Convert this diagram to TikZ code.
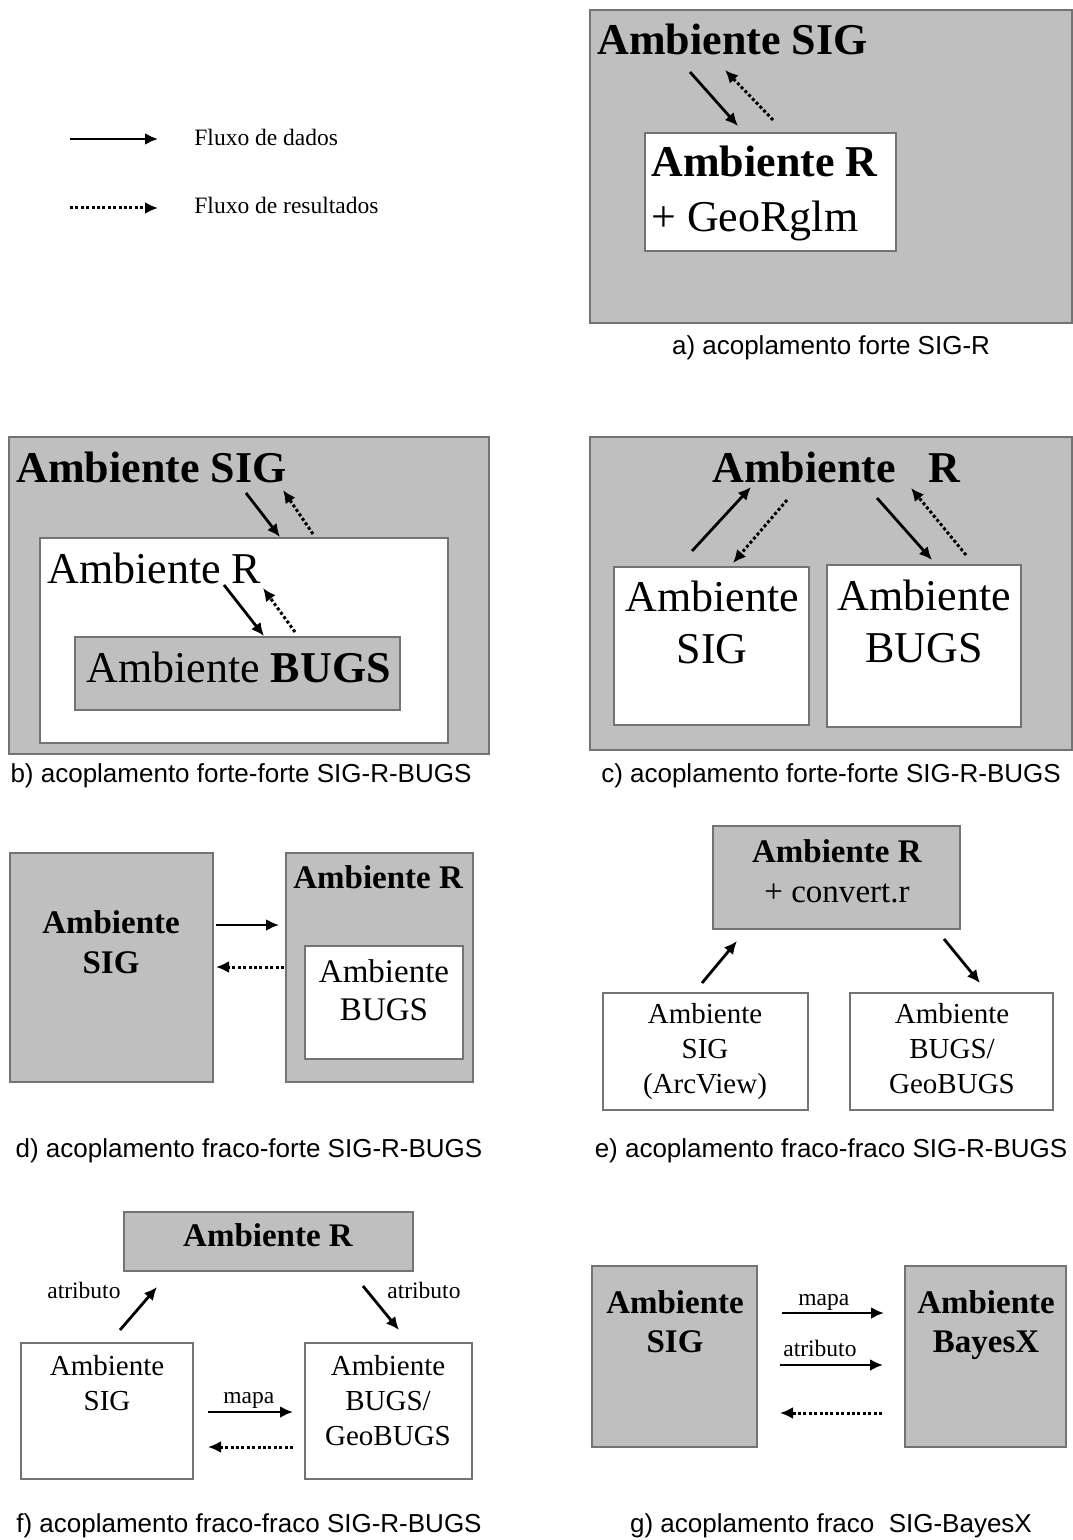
\documentclass[tikz,border=0pt]{standalone}
\usepackage{fontspec}
\setmainfont{Liberation Serif}
\setsansfont{Liberation Sans}
\usetikzlibrary{arrows.meta, fit}
\tikzset{>={Latex[width=6pt,length=6.5pt]}}

\begin{document}
\begin{tikzpicture}[
    x = 0.5pt, y = -0.5pt,
    graybox/.style = {draw=black!55, fill=black!25, line width=0.7pt,
        inner sep=0pt},
    whitebox/.style = {graybox, fill=white},
    dados/.style = {->, line width=1.4pt},
    result/.style = {dados, line width=1.5pt, dash pattern=on 1.5pt off 1.2pt},
    txtbig/.style = {inner sep=0pt, font=\fontsize{22}{26}\selectfont},
    txtbigb/.style = {inner sep=0pt, font=\fontsize{22}{26}\selectfont\bfseries},
    txtmid/.style = {inner sep=0pt, font=\fontsize{16.5}{20}\selectfont},
    txtmidb/.style = {inner sep=0pt, font=\fontsize{16.5}{20}\selectfont\bfseries},
    txtsml/.style = {inner sep=0pt, font=\fontsize{14.5}{17.5}\selectfont},
    rotulo/.style = {inner sep=0pt, anchor=base west,
        font=\fontsize{11.75}{14}\selectfont},
    legenda/.style = {inner sep=0pt, anchor=base,
        font=\sffamily\fontsize{13}{15}\selectfont}
  ]
  \fill[white] (0,0) rectangle (1072,1540);
  \useasboundingbox (0,0) rectangle (1072,1540);

  % legenda
  \coordinate (L1a) at (70,139);  \coordinate (L1b) at (158,139);
  \coordinate (L2a) at (70,208);  \coordinate (L2b) at (158,208);
  \draw[dados] (L1a) -- (L1b);
  \draw[result] (L2a) -- (L2b);
  \node[rotulo] (L1t) at (194,146) {Fluxo de dados};
  \node[rotulo] (L2t) at (194,214) {Fluxo de resultados};

  % a) acoplamento forte SIG-R
  \node[graybox, fit={(590,10) (1072,323)}] (aSIG) {};
  \node[txtbigb, anchor=base west] (aSIGt) at (597,55) {Ambiente SIG};
  \node[whitebox, fit={(645,133) (896,251)}] (aR) {};
  \node[txtbigb, anchor=base west] (aRt) at (651,177) {Ambiente R};
  \node[txtbig, anchor=base west] (aRg) at (651,232) {+ GeoRglm};
  \coordinate (aD1) at (690,72);  \coordinate (aD2) at (738,126);
  \coordinate (aF1) at (773,120); \coordinate (aF2) at (725,70);
  \draw[dados] (aD1) -- (aD2);
  \draw[result] (aF1) -- (aF2);
  \node[legenda] (aCap) at (831,354) {a) acoplamento forte SIG-R};

  % b) acoplamento forte-forte SIG-R-BUGS
  \node[graybox, fit={(9,437) (489,754)}] (bSIG) {};
  \node[txtbigb, anchor=base west] (bSIGt) at (16,482) {Ambiente SIG};
  \node[whitebox, fit={(40,538) (448,743)}] (bR) {};
  \node[txtbig, anchor=base west] (bRt) at (47,583) {Ambiente R};
  \node[graybox, fit={(75,637) (400,710)}] (bBUGS) {};
  \node[txtbig, anchor=base west] (bBUGSt) at (86,682) {Ambiente \textbf{BUGS}};
  \coordinate (bD1) at (246,493); \coordinate (bD2) at (280,537);
  \coordinate (bF1) at (313,534); \coordinate (bF2) at (283,490);
  \coordinate (bD3) at (224,585); \coordinate (bD4) at (264,636);
  \coordinate (bF3) at (295,632); \coordinate (bF4) at (263,588);
  \foreach \i/\j in {bD1/bD2, bD3/bD4}
    \draw[dados] (\i) -- (\j);
  \foreach \i/\j in {bF1/bF2, bF3/bF4}
    \draw[result] (\i) -- (\j);
  \node[legenda] (bCap) at (241,782) {b) acoplamento forte-forte SIG-R-BUGS};

  % c) acoplamento forte-forte SIG-R-BUGS
  \node[graybox, fit={(590,437) (1072,750)}] (cR) {};
  \node[txtbigb, anchor=base west] (cRt) at (712,482) {Ambiente\ \ \ R};
  \node[whitebox, fit={(614,567) (809,725)}] (cSIG) {};
  \node[txtbig, anchor=base, align=center] (cSIGt) at (712,663) {Ambiente\\SIG};
  \node[whitebox, fit={(827,565) (1021,727)}] (cBUGS) {};
  \node[txtbig, anchor=base, align=center] (cBUGSt) at (924,662) {Ambiente\\BUGS};
  \coordinate (cD1) at (692,551); \coordinate (cD2) at (751,487);
  \coordinate (cF1) at (787,500); \coordinate (cF2) at (733,563);
  \coordinate (cD3) at (877,498); \coordinate (cD4) at (932,560);
  \coordinate (cF3) at (966,555); \coordinate (cF4) at (911,488);
  \foreach \i/\j in {cD1/cD2, cD3/cD4}
    \draw[dados] (\i) -- (\j);
  \foreach \i/\j in {cF1/cF2, cF3/cF4}
    \draw[result] (\i) -- (\j);
  \node[legenda] (cCap) at (831,782) {c) acoplamento forte-forte SIG-R-BUGS};

  % d) acoplamento fraco-forte SIG-R-BUGS
  \node[graybox, fit={(10,853) (213,1082)}] (dSIG) {};
  \node[txtmidb, anchor=base, align=center] (dSIGt) at (111,973) {Ambiente\\SIG};
  \node[graybox, fit={(286,853) (473,1082)}] (dR) {};
  \node[txtmidb, anchor=base west] (dRt) at (293,888) {Ambiente R};
  \node[whitebox, fit={(305,946) (463,1059)}] (dBUGS) {};
  \node[txtmid, anchor=base, align=center, font=\fontsize{16.5}{19}\selectfont] (dBUGSt) at (384,1020) {Ambiente\\BUGS};
  \coordinate (dD1) at (216,925); \coordinate (dD2) at (279,925);
  \coordinate (dF1) at (284,967); \coordinate (dF2) at (216,967);
  \draw[dados] (dD1) -- (dD2);
  \draw[result] (dF1) -- (dF2);
  \node[legenda] (dCap) at (249,1157) {d) acoplamento fraco-forte SIG-R-BUGS};

  % e) acoplamento fraco-fraco SIG-R-BUGS
  \node[graybox, fit={(713,826) (960,929)}] (eR) {};
  \node[txtmid, anchor=base, align=center] (eRt) at (837,902) {\textbf{Ambiente R}\\+ convert.r};
  \node[whitebox, fit={(603,993) (808,1110)}] (eSIG) {};
  \node[txtsml, anchor=base, align=center] (eSIGt) at (705,1093) {Ambiente\\SIG\\(ArcView)};
  \node[whitebox, fit={(850,993) (1053,1110)}] (eBUGS) {};
  \node[txtsml, anchor=base, align=center] (eBUGSt) at (952,1093) {Ambiente\\BUGS/\\GeoBUGS};
  \coordinate (eD1) at (702,983); \coordinate (eD2) at (737,941);
  \coordinate (eD3) at (944,939); \coordinate (eD4) at (980,983);
  \foreach \i/\j in {eD1/eD2, eD3/eD4}
    \draw[dados] (\i) -- (\j);
  \node[legenda] (eCap) at (831,1157) {e) acoplamento fraco-fraco SIG-R-BUGS};

  % f) acoplamento fraco-fraco SIG-R-BUGS
  \node[graybox, fit={(124,1212) (413,1271)}] (fR) {};
  \node[txtmidb, anchor=base] (fRt) at (268,1246) {Ambiente R};
  \node[whitebox, fit={(21,1343) (193,1479)}] (fSIG) {};
  \node[txtsml, anchor=base, align=center] (fSIGt) at (107,1410) {Ambiente\\SIG};
  \node[whitebox, fit={(305,1343) (472,1479)}] (fBUGS) {};
  \node[txtsml, anchor=base, align=center] (fBUGSt) at (388,1445) {Ambiente\\BUGS/\\GeoBUGS};
  \coordinate (fD1) at (120,1330); \coordinate (fD2) at (157,1287);
  \coordinate (fD3) at (363,1286); \coordinate (fD4) at (399,1330);
  \coordinate (fD5) at (208,1412); \coordinate (fD6) at (293,1412);
  \coordinate (fF1) at (293,1447); \coordinate (fF2) at (208,1447);
  \foreach \i/\j in {fD1/fD2, fD3/fD4, fD5/fD6}
    \draw[dados] (\i) -- (\j);
  \draw[result] (fF1) -- (fF2);
  \node[rotulo] (fA1) at (47,1298) {atributo};
  \node[rotulo] (fA2) at (387,1298) {atributo};
  \node[rotulo] (fM) at (223,1403) {mapa};
  \node[legenda] (fCap) at (249,1532) {f) acoplamento fraco-fraco SIG-R-BUGS};

  % g) acoplamento fraco SIG-BayesX
  \node[graybox, fit={(592,1266) (757,1447)}] (gSIG) {};
  \node[txtmidb, anchor=base, align=center, font=\fontsize{16.5}{19.5}\selectfont\bfseries] (gSIGt) at (675,1352) {Ambiente\\SIG};
  \node[graybox, fit={(905,1266) (1066,1447)}] (gBX) {};
  \node[txtmidb, anchor=base, align=center, font=\fontsize{16.5}{19.5}\selectfont\bfseries] (gBXt) at (986,1352) {Ambiente\\BayesX};
  \coordinate (gD1) at (782,1313); \coordinate (gD2) at (884,1313);
  \coordinate (gD3) at (780,1365); \coordinate (gD4) at (883,1365);
  \coordinate (gF1) at (882,1413); \coordinate (gF2) at (780,1413);
  \foreach \i/\j in {gD1/gD2, gD3/gD4}
    \draw[dados] (\i) -- (\j);
  \draw[result] (gF1) -- (gF2);
  \node[rotulo] (gM) at (798,1305) {mapa};
  \node[rotulo] (gA) at (783,1356) {atributo};
  \node[legenda] (gCap) at (831,1532) {g) acoplamento fraco\ \ SIG-BayesX};
\end{tikzpicture}
\end{document}
